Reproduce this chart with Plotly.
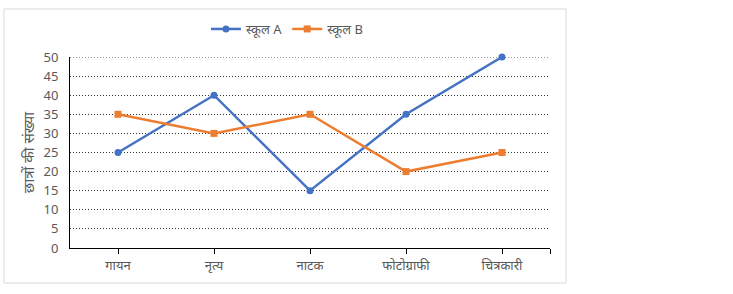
import plotly.graph_objects as go

categories = ["गायन", "नृत्य", "नाटक", "फोटोग्राफी", "चित्रकारी"]
school_a = [25, 40, 15, 35, 50]
school_b = [35, 30, 35, 20, 25]
y_ticks = [0, 5, 10, 15, 20, 25, 30, 35, 40, 45, 50]

FONT = "Noto Sans, Liberation Sans, sans-serif"
GRAY = "#595959"

fig = go.Figure()
fig.add_trace(go.Scatter(x=list(range(len(categories))), y=school_a, name="स्कूल A",
                         mode="lines+markers", cliponaxis=False,
                         line=dict(color="#4472C4", width=2.5),
                         marker=dict(symbol="circle", size=7, color="#4472C4")))
fig.add_trace(go.Scatter(x=list(range(len(categories))), y=school_b, name="स्कूल B",
                         mode="lines+markers", cliponaxis=False,
                         line=dict(color="#ED7D31", width=2.5),
                         marker=dict(symbol="square", size=7, color="#ED7D31")))

W, H = 733, 294
L, R, T, B = 70, 550, 57, 248
fig.update_layout(
    width=W, height=H,
    margin=dict(l=L, r=W - R, t=T, b=H - B),
    paper_bgcolor="white", plot_bgcolor="white",
    font=dict(family=FONT, size=13, color=GRAY),
    showlegend=True,
    legend=dict(orientation="h", x=0.452, xanchor="center", y=(B - 29) / (B - T), yanchor="middle",
                font=dict(size=13, color=GRAY), bgcolor="rgba(0,0,0,0)", itemwidth=30),
    xaxis=dict(range=[-0.5, 4.5], tickvals=[0, 1, 2, 3, 4, 4.5],
               ticktext=categories + [""], showgrid=False, zeroline=False,
               showline=True, linecolor="black", linewidth=1,
               ticks="outside", ticklen=5, tickcolor="black", tickwidth=1,
               tickfont=dict(size=13, color=GRAY)),
    yaxis=dict(range=[0, 50], tickvals=y_ticks, showgrid=True, gridcolor="#333333",
               griddash="1px,2px", gridwidth=1, zeroline=False,
               showline=True, linecolor="black", linewidth=1, ticks="",
               ticklabelstandoff=8,
               tickfont=dict(size=13, color=GRAY),
               title=dict(text="छात्रों की संख्या", font=dict(size=15, color=GRAY), standoff=5)),
    shapes=[dict(type="rect", xref="paper", yref="paper",
                 x0=(4 - L) / (R - L), x1=(566 - L) / (R - L),
                 y0=(B - 283) / (B - T), y1=(B - 9) / (B - T),
                 line=dict(color="#D9D9D9", width=1), fillcolor="rgba(0,0,0,0)", layer="below"),
            dict(type="line", xref="paper", yref="y", x0=0, x1=1, y0=y_ticks[-1], y1=y_ticks[-1],
                 line=dict(color="#333333", width=1, dash="1px,2px"), layer="below")],
)

fig.write_html("out.html")
